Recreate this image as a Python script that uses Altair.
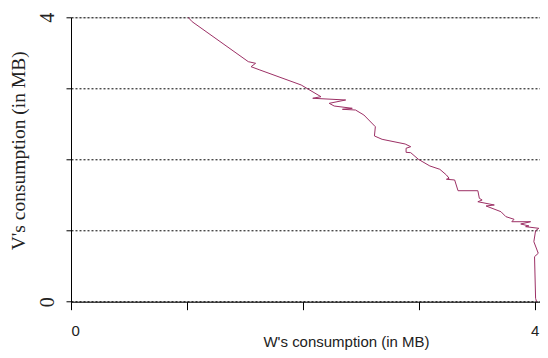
import altair as alt
import pandas as pd

# traced path of (W, V) consumption in MB
w_mb = [1.01, 1.045, 1.529, 1.592, 1.553, 1.629, 1.985, 2.156, 2.085, 2.369,
        2.227, 2.270, 2.426, 2.341, 2.454, 2.526, 2.625, 2.617, 2.683, 2.882,
        2.930, 2.890, 2.890, 2.930, 2.996, 3.095, 3.181, 3.238, 3.261, 3.238,
        3.309, 3.338, 3.509, 3.522, 3.546, 3.509, 3.651, 3.580, 3.708, 3.751,
        3.821, 3.802, 3.964, 3.879, 3.950, 3.921, 4.035, 4.007, 3.992, 4.030,
        3.998, 4.007, 4.015]
v_mb = [4.0, 3.938, 3.376, 3.353, 3.305, 3.259, 3.048, 2.883, 2.861, 2.837,
        2.790, 2.752, 2.720, 2.706, 2.696, 2.626, 2.461, 2.331, 2.284, 2.218,
        2.180, 2.158, 2.101, 2.096, 2.003, 1.909, 1.862, 1.782, 1.736, 1.722,
        1.712, 1.561, 1.561, 1.454, 1.430, 1.406, 1.360, 1.346, 1.266, 1.196,
        1.159, 1.125, 1.125, 1.093, 1.065, 1.055, 1.032, 0.999, 0.844, 0.681,
        0.633, 0.048, 0.003]
tick_values = [0, 1, 2, 3, 4]
shown_labels = [0, 4]

df = pd.DataFrame({"w": w_mb, "v": v_mb, "step": list(range(len(w_mb)))})

label_expr = "indexof([0, 4], datum.value) >= 0 ? datum.label : ''"

chart = alt.Chart(df).mark_line(color="#9c2f64", strokeWidth=1).encode(
    x=alt.X("w:Q",
            scale=alt.Scale(domain=[0, 4.045], nice=False, zero=False),
            axis=alt.Axis(values=tick_values, labelExpr=label_expr,
                          title="W's consumption (in MB)", grid=False,
                          tickSize=8, labelPadding=14,
                          labelFont="Liberation Sans", labelFontSize=15,
                          labelColor="#222222",
                          titleFont="Liberation Sans", titleFontSize=15,
                          titleFontWeight="normal", titleColor="#222222",
                          titleX=275, titleY=45, titleAlign="center",
                          titleBaseline="alphabetic",
                          domainColor="black", tickColor="black")),
    y=alt.Y("v:Q",
            scale=alt.Scale(domain=[0, 4], nice=False),
            axis=alt.Axis(values=tick_values, labelExpr=label_expr,
                          title="V's consumption (in MB)",
                          grid=True, gridColor="black", gridDash=[2, 2],
                          gridWidth=1,
                          tickSize=5, labelPadding=13, labelAngle=270,
                          labelAlign="center", labelBaseline="alphabetic",
                          labelFont="Liberation Serif", labelFontSize=20,
                          labelColor="#222222",
                          titleFont="Liberation Serif", titleFontSize=19.5,
                          titleFontWeight="normal", titleColor="#222222",
                          titleX=-47, titleY=133, titleAngle=270,
                          titleAlign="center", titleBaseline="alphabetic",
                          domainColor="black", tickColor="black")),
    order="step:Q",
).properties(
    width=469,
    height=284.4,
    autosize=alt.AutoSizeParams(type="none"),
    padding={"left": 63, "top": 9.3, "right": 0, "bottom": 48},
).configure_view(stroke=None).configure(background="white")

chart.save("out.html", embed_options={"renderer": "svg", "actions": False})
